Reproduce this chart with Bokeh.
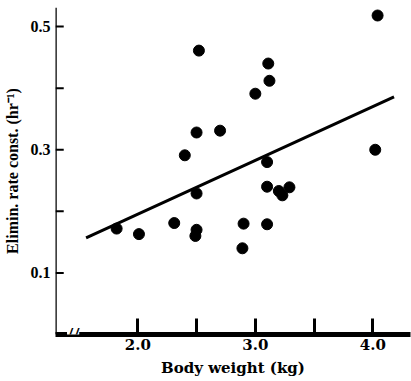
from bokeh.plotting import figure
from bokeh.models import Range1d, FixedTicker, Label, Span
from bokeh.embed import file_html
from bokeh.resources import INLINE

# data
body_weight = [4.04, 2.52, 3.11, 3.12, 3.00, 2.50, 2.70, 2.40, 4.02, 3.10,
               2.50, 3.10, 3.20, 3.23, 3.29, 1.82, 2.01, 2.31, 2.50, 2.49,
               2.90, 3.10, 2.89]
elim_rate = [0.518, 0.461, 0.440, 0.412, 0.391, 0.328, 0.331, 0.291, 0.300, 0.280,
             0.229, 0.240, 0.233, 0.226, 0.239, 0.172, 0.163, 0.181, 0.170, 0.160,
             0.180, 0.179, 0.140]
fit_x = [1.56, 4.18]
fit_y = [0.157, 0.386]
x_ticks = [2.0, 2.5, 3.0, 3.5, 4.0]
x_tick_labels = {2.0: "2.0", 2.5: "", 3.0: "3.0", 3.5: "", 4.0: "4.0"}
y_ticks = [0.1, 0.2, 0.3, 0.4, 0.5]
y_tick_labels = {0.1: "0.1", 0.2: "", 0.3: "0.3", 0.4: "", 0.5: "0.5"}

SERIF = "Liberation Serif"
WIDE_SERIF = "DejaVu Serif"

x_range = Range1d(1.30, 4.32)
y_range = Range1d(0.0, 0.531)

p = figure(width=411, height=381, output_backend="svg", toolbar_location=None,
           x_range=x_range, y_range=y_range,
           min_border_left=55, min_border_right=1, min_border_top=7, min_border_bottom=47)
p.outline_line_color = None
p.grid.visible = False
p.background_fill_color = None
p.border_fill_color = "white"

p.line(fit_x, fit_y, line_color="black", line_width=3)
p.scatter(body_weight, elim_rate, size=11, fill_color="black", line_color="black")

xa = p.xaxis[0]
ya = p.yaxis[0]
for ax in (xa, ya):
    ax.major_tick_out = 0
    ax.minor_tick_line_color = None
    ax.major_label_text_font_style = "bold"
    ax.major_label_text_color = "black"
    ax.axis_label_text_font_style = "bold"
    ax.axis_label_text_color = "black"

xa.axis_line_width = 5
xa.axis_line_color = "black"
xa.major_tick_line_width = 3
xa.major_tick_line_color = "black"
xa.major_tick_in = 16
xa.ticker = FixedTicker(ticks=x_ticks)
xa.major_label_overrides = x_tick_labels
xa.axis_label = "Body weight (kg)"
xa.major_label_text_font = WIDE_SERIF
xa.major_label_text_font_size = "15px"
xa.axis_label_text_font = WIDE_SERIF
xa.axis_label_text_font_size = "15px"
xa.major_label_standoff = 4
xa.axis_label_standoff = 6

# y axis: labels from the axis, line and inward ticks drawn explicitly
ya.axis_line_color = None
ya.major_tick_line_color = None
ya.major_tick_in = 0
ya.ticker = FixedTicker(ticks=y_ticks)
ya.major_label_overrides = y_tick_labels
ya.axis_label = "Elimin. rate const. (hr\u207b\u00b9)"
ya.major_label_text_font = SERIF
ya.major_label_text_font_size = "16px"
ya.axis_label_text_font = SERIF
ya.axis_label_text_font_size = "16px"
ya.major_label_standoff = 5
ya.axis_label_standoff = 7

y_axis_line = Span(location=x_range.start, dimension="height",
                   line_color="black", line_width=2.5)
p.add_layout(y_axis_line)

tick_len = 0.07 * (x_range.end - x_range.start) / 3.02
p.segment(x0=[x_range.start] * len(y_ticks), y0=y_ticks,
          x1=[x_range.start + tick_len] * len(y_ticks), y1=y_ticks,
          line_color="black", line_width=2)

brk = Label(x=1.45, y=0.0, text="//", text_align="center", text_baseline="middle",
            text_font=SERIF, text_font_style="bold", text_font_size="22px",
            text_color="black", background_fill_color="white", level="overlay")
p.add_layout(brk)

open("out.html", "w").write(file_html(p, INLINE))
